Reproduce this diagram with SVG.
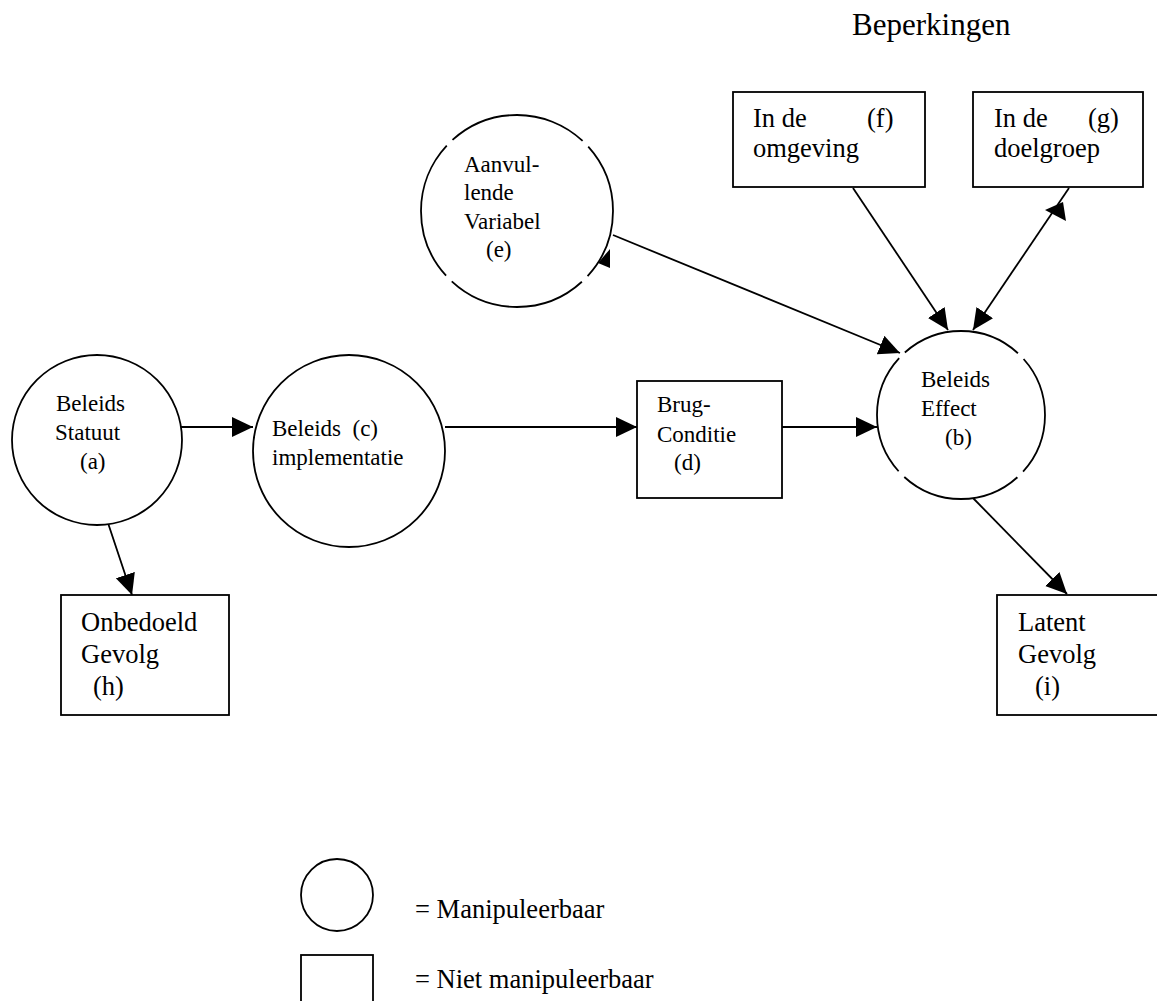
<svg xmlns="http://www.w3.org/2000/svg" width="1157" height="1001" viewBox="0 0 1157 1001">
<style>
  .shape { fill: #fff; stroke: #000; stroke-width: 1.8; }
  .line { fill: none; stroke: #000; stroke-width: 1.8; }
  .tri { fill: #000; stroke: none; }
  text { font-family: "Liberation Serif", "Times New Roman", serif; fill: #000; }
  .sm { font-size: 23px; }
  .lg { font-size: 26.5px; }
  .title { font-size: 31px; }
</style>
<defs>
  <marker id="arrow" markerUnits="userSpaceOnUse" markerWidth="22" markerHeight="22" refX="21" refY="10" orient="auto">
    <path d="M0,0 L21,10 L0,20 Z" fill="#000"/>
  </marker>
</defs>
<rect width="1157" height="1001" fill="#fff"/>

<text class="title" x="852" y="35">Beperkingen</text>

<g id="connectors">
  <line class="line" x1="181" y1="427" x2="253" y2="427" marker-end="url(#arrow)"/>
  <line class="line" x1="445" y1="427" x2="637" y2="427" marker-end="url(#arrow)"/>
  <line class="line" x1="782" y1="427" x2="877" y2="427" marker-end="url(#arrow)"/>
  <line class="line" x1="108" y1="523" x2="132" y2="595" marker-end="url(#arrow)"/>
  <line class="line" x1="973" y1="498" x2="1067" y2="594" marker-end="url(#arrow)"/>
  <line class="line" x1="613" y1="235" x2="900" y2="353" marker-end="url(#arrow)"/>
  <line class="line" x1="853" y1="188" x2="948" y2="330" marker-end="url(#arrow)"/>
  <line class="line" x1="1069" y1="188" x2="973" y2="330" marker-end="url(#arrow)"/>
  <polygon class="tri" points="598,263 610,249 610,268"/>
  <polygon class="tri" points="1045,210 1063,202 1066,221"/>
</g>

<g id="node-a">
  <circle class="shape" cx="97" cy="440" r="85"/>
  <text class="sm" x="56" y="411">Beleids</text>
  <text class="sm" x="55" y="440">Statuut</text>
  <text class="sm" x="80" y="469">(a)</text>
</g>

<g id="node-c">
  <circle class="shape" cx="349" cy="451" r="96"/>
  <text class="sm" x="272" y="436" xml:space="preserve">Beleids  (c)</text>
  <text class="sm" x="272" y="465">implementatie</text>
</g>

<g id="node-d">
  <rect class="shape" x="637" y="381" width="145" height="117"/>
  <text class="sm" x="657" y="412">Brug-</text>
  <text class="sm" x="657" y="442">Conditie</text>
  <text class="sm" x="674" y="470">(d)</text>
</g>

<g id="node-b">
  <circle class="shape" cx="961" cy="415" r="84" stroke-dasharray="123.9 8" stroke-dashoffset="61.9"/>
  <text class="sm" x="921" y="387">Beleids</text>
  <text class="sm" x="921" y="416">Effect</text>
  <text class="sm" x="945" y="445">(b)</text>
</g>

<g id="node-e">
  <circle class="shape" cx="517" cy="211" r="96" stroke-dasharray="142.8 8" stroke-dashoffset="71.4"/>
  <text class="sm" x="464" y="172">Aanvul-</text>
  <text class="sm" x="464" y="200">lende</text>
  <text class="sm" x="464" y="229">Variabel</text>
  <text class="sm" x="486" y="257">(e)</text>
</g>

<g id="node-f">
  <rect class="shape" x="733" y="92" width="192" height="95"/>
  <text class="lg" x="753" y="127">In de</text>
  <text class="lg" x="867" y="127">(f)</text>
  <text class="lg" x="753" y="157">omgeving</text>
</g>

<g id="node-g">
  <rect class="shape" x="973" y="92" width="170" height="95"/>
  <text class="lg" x="994" y="127">In de</text>
  <text class="lg" x="1088" y="127">(g)</text>
  <text class="lg" x="994" y="157">doelgroep</text>
</g>

<g id="node-h">
  <rect class="shape" x="61" y="595" width="168" height="120"/>
  <text class="lg" x="81" y="631">Onbedoeld</text>
  <text class="lg" x="81" y="663">Gevolg</text>
  <text class="lg" x="93" y="695">(h)</text>
</g>

<g id="node-i">
  <rect class="shape" x="997" y="595" width="180" height="120"/>
  <text class="lg" x="1018" y="631">Latent</text>
  <text class="lg" x="1018" y="663">Gevolg</text>
  <text class="lg" x="1035" y="695">(i)</text>
</g>

<g id="legend">
  <circle class="shape" cx="337" cy="895" r="36"/>
  <text class="lg" x="415" y="918">= Manipuleerbaar</text>
  <rect class="shape" x="301" y="955" width="72" height="60"/>
  <text class="lg" x="415" y="988">= Niet manipuleerbaar</text>
</g>
</svg>
